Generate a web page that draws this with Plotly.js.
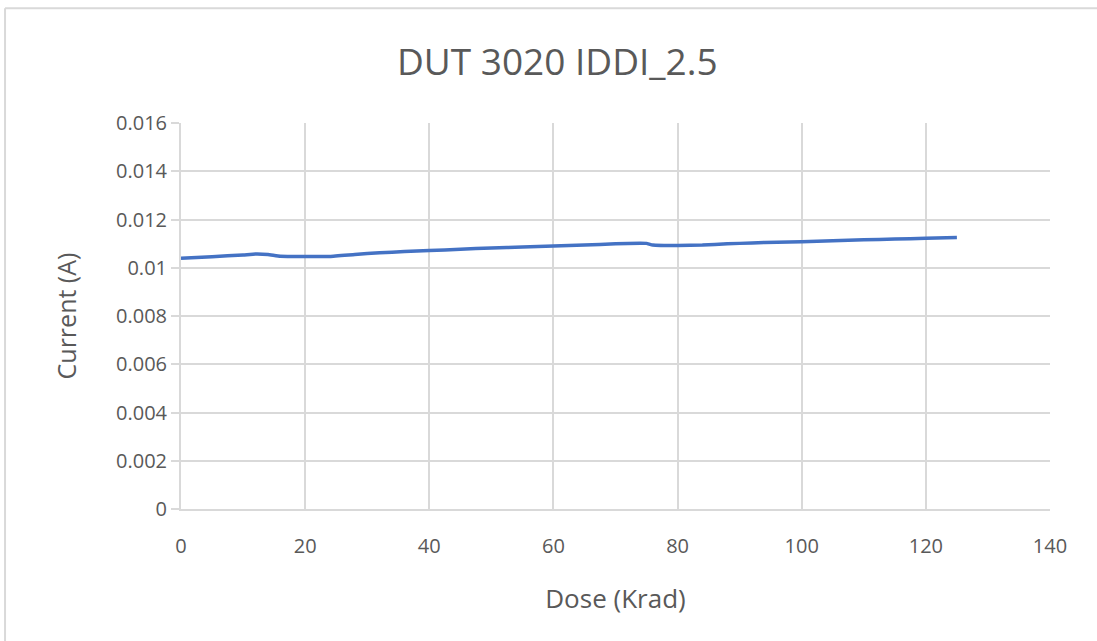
<!DOCTYPE html>
<html>
<head>
<meta charset="utf-8">
<script src="https://cdn.plot.ly/plotly-3.0.1.min.js"></script>
<style>html,body{margin:0;padding:0;background:#fff;}#chart{width:1097px;height:641px;}</style>
</head>
<body>
<div id="chart"></div>
<script>
const chartTitle = "DUT 3020 IDDI_2.5";
const xTitle = "Dose (Krad)";
const yTitle = "Current (A)";
const dose = [0, 5, 10, 12, 14, 16, 20, 24, 28, 32, 36, 40, 45, 50, 55, 60, 65, 70, 74, 75, 76, 80, 84, 88, 92, 96, 100, 105, 110, 115, 120, 125];
const current = [0.01039, 0.01046, 0.01053, 0.01057, 0.01055, 0.01048, 0.01047, 0.01047, 0.01055, 0.01062, 0.01067, 0.01071, 0.01077, 0.01082, 0.01086, 0.0109, 0.01094, 0.01099, 0.01102, 0.01101, 0.01094, 0.01092, 0.01094, 0.01099, 0.01103, 0.01106, 0.01108, 0.01112, 0.01116, 0.01119, 0.01122, 0.01125];
const yTicks = [0, 0.002, 0.004, 0.006, 0.008, 0.01, 0.012, 0.014, 0.016];
const yTickText = ["0", "0.002", "0.004", "0.006", "0.008", "0.01", "0.012", "0.014", "0.016"];

const fontFam = "Open Sans, sans-serif";
const grey = "#595959";
const grid = "#d9d9d9";

Plotly.newPlot("chart", [{
  x: dose, y: current, type: "scatter", mode: "lines",
  line: {color: "#4472c4", width: 3.5, shape: "spline", smoothing: 0.3},
  hoverinfo: "x+y"
}], {
  width: 1097, height: 641,
  margin: {l: 181, r: 47, t: 123, b: 132},
  paper_bgcolor: "#ffffff", plot_bgcolor: "#ffffff",
  showlegend: false,
  title: {text: chartTitle, x: 0.508, xanchor: "center", y: 0.903, yanchor: "middle",
          font: {family: fontFam, size: 37, color: grey}},
  xaxis: {
    range: [0, 140], dtick: 20, tick0: 0,
    showgrid: true, gridcolor: grid, gridwidth: 2,
    zeroline: false, showline: true, linecolor: grid, linewidth: 2,
    ticks: "", ticklabelstandoff: 18, tickfont: {family: fontFam, size: 20, color: grey},
    title: {text: xTitle, font: {family: fontFam, size: 26, color: grey}, standoff: 32},
    automargin: false
  },
  yaxis: {
    range: [0, 0.016], tickvals: yTicks, ticktext: yTickText,
    showgrid: true, gridcolor: grid, gridwidth: 2,
    zeroline: false, showline: true, linecolor: grid, linewidth: 2,
    ticks: "outside", ticklen: 8, tickcolor: grid, tickwidth: 2,
    tickfont: {family: fontFam, size: 20, color: grey},
    title: {text: yTitle, font: {family: fontFam, size: 25, color: grey}, standoff: 32},
    automargin: false
  },
  shapes: [
    {type: "line", xref: "paper", yref: "paper", x0: -0.2025, x1: 1.1, y0: 1.297, y1: 1.297, line: {color: "#d9d9d9", width: 2}},
    {type: "line", xref: "paper", yref: "paper", x0: -0.2025, x1: -0.2025, y0: 1.297, y1: -0.4, line: {color: "#d9d9d9", width: 2}}
  ]
}, {displayModeBar: false, staticPlot: true});
</script>
</body>
</html>
